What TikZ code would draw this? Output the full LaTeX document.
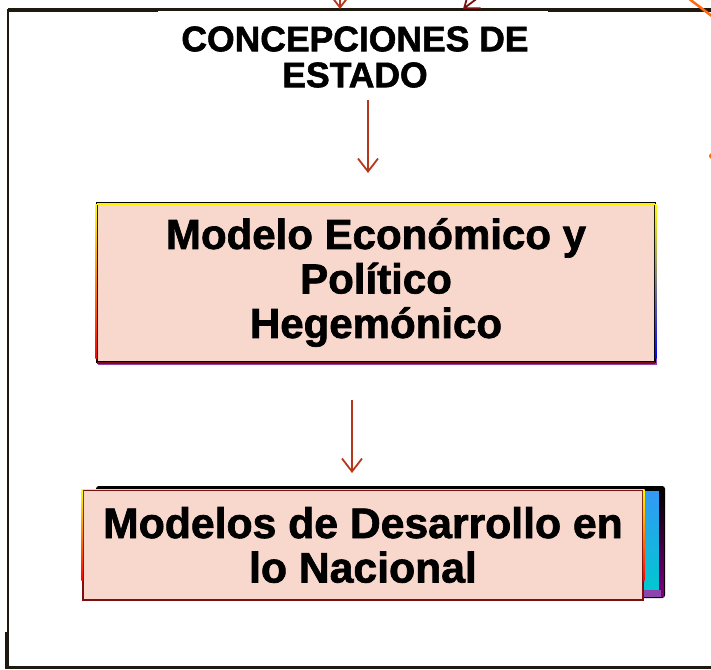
\documentclass[tikz,border=0pt]{standalone}
\usepackage{fontspec}
\setmainfont{Liberation Sans}
\newfontfamily\negrita[FakeBold=1.6]{Liberation Sans Bold}
\usetikzlibrary{arrows.meta, positioning}
\definecolor{durazno}{HTML}{F8D8CC}
\definecolor{ladrillo}{HTML}{B5381A}
\definecolor{vino}{HTML}{7A1010}
\definecolor{morado}{HTML}{8E44AD}
\definecolor{naranja}{HTML}{FF6A10}
\definecolor{marco}{HTML}{1E1A10}
\definecolor{celeste}{HTML}{3399F5}
\definecolor{turquesa}{HTML}{00C8D0}

\begin{document}
\begin{tikzpicture}[
  x=1pt, y=-1pt,
  titulo/.style={align=center, font=\negrita\fontsize{35.5}{36}\selectfont},
  modelo/.style={fill=durazno, align=center, inner sep=0pt, font=\negrita\fontsize{42}{44.5}\selectfont},
  flow/.style={-{Straight Barb[length=13pt, width=20pt]}, line width=1.8pt, ladrillo}
]
\useasboundingbox (0,0) rectangle (711,669);

% Frame
\draw[marco, line width=4pt] (8,10) -- (711,10);
\fill[white] (158,10.6) rectangle (548,60);
\draw[marco, line width=2.2pt] (8,9) -- (8,667.5) -- (711,667.5);
\fill[marco] (5,632) rectangle (9,669);
\draw[naranja, line width=2.5pt] (688,-2) -- (713,17);
\fill[naranja] (712,156) circle (3pt);

% Arrows coming from above
\coordinate (arribaA) at (340,-8);
\coordinate (finA) at (340,9);
\coordinate (arribaB) at (495,-15);
\coordinate (finB) at (463,9);
\draw[flow] (arribaA) -- (finA);
\draw[flow, vino] (arribaB) -- (finB);

% Title
\node[titulo] (concepciones) at (355,57) {CONCEPCIONES DE\\ESTADO};

% Box 1
\fill[morado] (98,206) rectangle (657,365);
\node[modelo, draw=black, line width=1.5pt, minimum width=558pt, minimum height=159pt] (economico) at (376,282.5)
  {Modelo Económico y\\Político\\Hegemónico};
\draw[yellow, line width=1.5pt] ([xshift=1pt,yshift=-1.5pt]economico.north west) -- ([xshift=-1pt,yshift=-1.5pt]economico.north east);
\shade[top color=yellow, middle color=blue, bottom color=red] ([xshift=-0.8pt,yshift=-2pt]economico.north west) rectangle ([xshift=0.8pt,yshift=4pt]economico.south west);
\shade[top color=yellow, middle color=red, bottom color=blue] ([xshift=-0.8pt,yshift=-2pt]economico.north east) rectangle ([xshift=0.8pt,yshift=4pt]economico.south east);
\draw[vino, line width=1.5pt] ([xshift=1pt]economico.south west) -- ([xshift=-1pt]economico.south east);

% Box 2 (back)
\draw[black, line width=2pt, rounded corners=2pt, fill=black] (97,487) rectangle (664,597);
\shade[top color=celeste, bottom color=turquesa] (643,491) rectangle (659,590);
\shade[top color=black, middle color=blue!80!black, bottom color=violet] (659,489) rectangle (664,596);
\fill[morado] (97,590) rectangle (661,597);

% Box 2 (front)
\node[modelo, font=\negrita\fontsize{42.7}{44.5}\selectfont, draw=vino, line width=1.5pt, minimum width=560pt, minimum height=110pt] (desarrollo) at (363,545)
  {Modelos de Desarrollo en\\lo Nacional};
\draw[yellow, line width=1.5pt] (desarrollo.north west) -- (desarrollo.north east);
\shade[top color=yellow, bottom color=red] ([xshift=-0.8pt]desarrollo.north west) rectangle ([xshift=0.8pt,yshift=20pt]desarrollo.south west);
\shade[top color=yellow, bottom color=red] ([xshift=-0.8pt]desarrollo.north east) rectangle ([xshift=0.8pt,yshift=20pt]desarrollo.south east);

% Arrows between levels
\coordinate (salida1) at (368,100);
\coordinate (llegada1) at (368,173);
\coordinate (salida2) at (352,400);
\coordinate (llegada2) at (352,473);
\draw[flow] (salida1) -- (llegada1);
\draw[flow] (salida2) -- (llegada2);

\end{tikzpicture}
\end{document}
